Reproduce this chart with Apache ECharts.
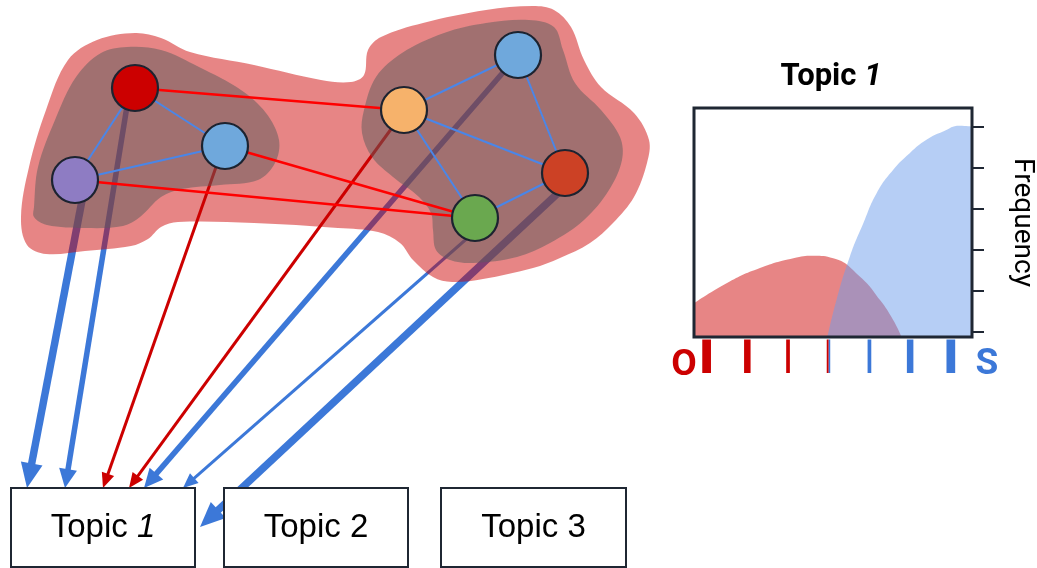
<!DOCTYPE html>
<html><head><meta charset="utf-8">
<script src="https://cdn.jsdelivr.net/npm/echarts@6/dist/echarts.min.js"></script>
<style>html,body{margin:0;padding:0;background:#fff}#c{width:1037px;height:568px}</style>
</head><body><div id="c"></div>
<script>
// ---------------- diagram data (diagram units) ----------------
const nodeX = [135, 225, 75, 404, 518, 565, 475];
const nodeY = [88, 146, 180, 110, 55, 173, 218];
const nodeColors = ['#cc0000', '#6fa8dc', '#8e7cc3', '#f6b26b', '#6fa8dc', '#cc4125', '#6aa84f'];

const linkSource = [0, 0, 2, 3, 4, 3, 3, 6, 0, 1, 2];
const linkTarget = [1, 2, 1, 4, 5, 5, 6, 5, 3, 6, 6];
const linkType = ['in', 'in', 'in', 'in', 'in', 'in', 'in', 'in', 'cross', 'cross', 'cross'];

const arrowFromX = [84, 128, 222, 405, 519, 488, 572];
const arrowFromY = [190, 100, 150, 110, 54, 220, 180];
const arrowToX = [27, 65, 103, 129, 144, 183, 200];
const arrowToY = [488, 488, 488, 488, 488, 488, 527];
const arrowWeight = [3, 2, 1, 1, 2, 1, 3];
const arrowKind = ['blue', 'blue', 'red', 'red', 'blue', 'blue', 'blue'];

const outerBlob = [[68,60],[97,40],[135,33],[161,38],[190,52],[254,65],[321,80],[351,82],[364,75],[368,50],[381,37],[423,23],[486,10],[533,6],[554,10],[571,27],[584,60],[601,87],[634,113],[649,140],[647,163],[634,197],[613,223],[590,243],[560,258],[533,268],[483,279],[452,282],[433,277],[413,260],[400,243],[378,232],[338,228],[254,223],[178,222],[161,227],[148,239],[131,246],[85,251],[46,254],[27,245],[21,217],[29,167],[46,110]];
const innerLeft = [[34,207],[38,167],[55,120],[76,77],[101,53],[127,47],[161,50],[199,67],[241,90],[266,113],[279,140],[275,163],[258,180],[220,185],[182,189],[161,197],[140,217],[123,226],[85,228],[47,225],[34,217]];
const innerRight = [[362,133],[364,110],[376,77],[402,53],[444,33],[486,23],[529,20],[554,27],[563,50],[575,83],[601,110],[620,137],[622,160],[609,190],[584,220],[550,243],[517,257],[473,263],[450,260],[436,250],[433,230],[431,213],[419,197],[393,177],[372,157]];

const topicNames = ['Topic ', 'Topic ', 'Topic '];
const topicNums = ['1', '2', '3'];
const topicItalic = [true, false, false];
const topicX0 = [11, 224, 441];
const topicX1 = [195, 408, 626];
const topicY0 = [488, 488, 488];
const topicY1 = [567, 567, 567];

// ---------------- mini chart data ----------------
const redX = [-0.31, 0.49, 1.31, 2.13, 2.62, 3.11, 3.77, 4.26, 4.58, 4.79];
const redY = [0.69, 1.18, 1.55, 1.79, 1.85, 1.79, 1.34, 0.77, 0.29, -0.13];
const blueX = [2.97, 3.19, 3.52, 3.85, 4.18, 4.58, 4.99, 5.41, 5.81, 6.22, 6.52];
const blueY = [-0.13, 0.77, 1.83, 2.64, 3.38, 3.94, 4.35, 4.68, 4.88, 5.02, 5.0];
const scalePos = [0, 1, 2, 3, 4, 5, 6];
const scaleWeight = [3, 2, 1, 0, 1, 2, 3];
const scaleSide = ['O', 'O', 'O', 'M', 'S', 'S', 'S'];
const freqTicks = [0, 1, 2, 3, 4, 5];
const miniX = [-0.31, 6.52];
const miniY = [-0.13, 5.45];

// ---------------- styling ----------------
const BLUE = '#3c78d8', RED = '#cc0000', DARK = '#1f2733';
const aW = [0, 3, 5.5, 7.5], hW = [0, 13, 18, 22], hL = [0, 15, 19, 25];
const tickW = [2, 3.7, 6.5, 8.7];

const chart = echarts.init(document.getElementById('c'));

function blobSeries(pts, fill, z) {
  return {
    type: 'custom', xAxisIndex: 0, yAxisIndex: 0, z: z, silent: true,
    data: [[0]],
    renderItem: function (params, api) {
      return { type: 'polygon', shape: { points: pts.map(p => api.coord(p)), smooth: 0.35 }, style: { fill: fill } };
    }
  };
}

const option = {
  animation: false,
  grid: [
    { left: 0, top: 0, right: 0, bottom: 0, outerBoundsMode: 'none', containLabel: false },
    { left: 694, top: 108, width: 278, height: 229, outerBoundsMode: 'none', containLabel: false }
  ],
  xAxis: [
    { type: 'value', gridIndex: 0, min: 0, max: 1037, show: false },
    { type: 'value', gridIndex: 1, min: miniX[0], max: miniX[1], show: false }
  ],
  yAxis: [
    { type: 'value', gridIndex: 0, min: 0, max: 568, inverse: true, show: false },
    {
      type: 'value', gridIndex: 1, position: 'right', min: miniY[0], max: miniY[1],
      axisLine: { show: false, onZero: false },
      axisTick: { show: true, customValues: freqTicks, length: 12, lineStyle: { color: DARK, width: 2 } },
      axisLabel: { show: false }, splitLine: { show: false },
      name: 'Frequency', nameLocation: 'middle', nameRotate: -90, nameGap: 36,
      nameTextStyle: { fontSize: 28, fontFamily: 'Roboto', color: '#000' }
    }
  ],
  graphic: [
    { type: 'text', x: 831, y: 77, style: { text: '{a|Topic }{b|1}', align: 'center', verticalAlign: 'middle',
      rich: { a: { fontSize: 31, fontWeight: 'bold', fontFamily: 'Roboto', fill: '#000' },
              b: { fontSize: 31, fontWeight: 'bold', fontStyle: 'italic', fontFamily: 'Roboto', fill: '#000' } } } },
    { type: 'text', x: 684, y: 366, style: { text: 'O', align: 'center', verticalAlign: 'middle', fontSize: 37, fontWeight: 'bold', fontFamily: 'Roboto', fill: RED } },
    { type: 'text', x: 987, y: 365, style: { text: 'S', align: 'center', verticalAlign: 'middle', fontSize: 37, fontWeight: 'bold', fontFamily: 'Roboto', fill: BLUE } }
  ],
  series: [
    // arrows to topics
    {
      type: 'custom', xAxisIndex: 0, yAxisIndex: 0, z: 1, silent: true,
      data: arrowFromX.map((_, i) => [i]),
      renderItem: function (params, api) {
        const i = api.value(0);
        const p0 = api.coord([arrowFromX[i], arrowFromY[i]]);
        const p1 = api.coord([arrowToX[i], arrowToY[i]]);
        const dx = p1[0] - p0[0], dy = p1[1] - p0[1], len = Math.hypot(dx, dy);
        const ux = dx / len, uy = dy / len, nx = -uy, ny = ux;
        const w = arrowWeight[i], hl = hL[w], hw = hW[w] / 2;
        const color = arrowKind[i] === 'red' ? RED : BLUE;
        const bx = p1[0] - ux * hl, by = p1[1] - uy * hl;
        return { type: 'group', children: [
          { type: 'line', shape: { x1: p0[0], y1: p0[1], x2: bx + ux * 3, y2: by + uy * 3 }, style: { stroke: color, lineWidth: aW[w] } },
          { type: 'polygon', shape: { points: [[p1[0], p1[1]], [bx + nx * hw, by + ny * hw], [bx - nx * hw, by - ny * hw]] }, style: { fill: color } }
        ] };
      }
    },
    blobSeries(outerBlob, 'rgba(204,0,0,0.48)', 2),
    blobSeries(innerLeft, 'rgba(91,91,91,0.5)', 2),
    blobSeries(innerRight, 'rgba(91,91,91,0.5)', 2),
    // links
    {
      type: 'custom', xAxisIndex: 0, yAxisIndex: 0, z: 3, silent: true,
      data: linkSource.map((_, i) => [i]),
      renderItem: function (params, api) {
        const i = api.value(0);
        const a = api.coord([nodeX[linkSource[i]], nodeY[linkSource[i]]]);
        const b = api.coord([nodeX[linkTarget[i]], nodeY[linkTarget[i]]]);
        const cross = linkType[i] === 'cross';
        return { type: 'line', shape: { x1: a[0], y1: a[1], x2: b[0], y2: b[1] },
          style: { stroke: cross ? '#ff0000' : '#4a86e8', lineWidth: cross ? 2.5 : 2 } };
      }
    },
    // nodes
    {
      type: 'scatter', xAxisIndex: 0, yAxisIndex: 0, z: 4, silent: true,
      symbolSize: 46,
      data: nodeX.map((x, i) => ({ value: [x, nodeY[i]], itemStyle: { color: nodeColors[i] } })),
      itemStyle: { borderColor: '#1c2330', borderWidth: 2.2, opacity: 1 }
    },
    // topic boxes
    {
      type: 'custom', xAxisIndex: 0, yAxisIndex: 0, z: 3, silent: true,
      data: topicNames.map((_, i) => [i]),
      renderItem: function (params, api) {
        const i = api.value(0);
        const a = api.coord([topicX0[i], topicY0[i]]);
        const b = api.coord([topicX1[i], topicY1[i]]);
        return { type: 'group', children: [
          { type: 'rect', shape: { x: a[0], y: a[1], width: b[0] - a[0], height: b[1] - a[1] }, style: { fill: '#fff', stroke: DARK, lineWidth: 2 } },
          { type: 'text', x: (a[0] + b[0]) / 2, y: (a[1] + b[1]) / 2, style: {
            text: '{a|' + topicNames[i] + '}{b|' + topicNums[i] + '}', align: 'center', verticalAlign: 'middle',
            rich: { a: { fontSize: 33, fontFamily: 'Liberation Sans', fill: '#000' },
                    b: { fontSize: 33, fontFamily: 'Liberation Sans', fontStyle: topicItalic[i] ? 'italic' : 'normal', fill: '#000' } } } }
        ] };
      }
    },
    // mini chart: red distribution
    {
      type: 'line', xAxisIndex: 1, yAxisIndex: 1, smooth: 0.5, showSymbol: false, symbol: 'none', silent: true, z: 2,
      data: redX.map((x, i) => [x, redY[i]]),
      lineStyle: { width: 0 },
      areaStyle: { color: 'rgba(204,0,0,0.48)', origin: 'start', opacity: 1 }
    },
    // mini chart: blue distribution
    {
      type: 'line', xAxisIndex: 1, yAxisIndex: 1, smooth: 0.5, showSymbol: false, symbol: 'none', silent: true, z: 3,
      data: blueX.map((x, i) => [x, blueY[i]]),
      lineStyle: { width: 0 },
      areaStyle: { color: 'rgba(109,158,235,0.5)', origin: 'start', opacity: 1 }
    },
    // mini chart frame
    {
      type: 'custom', xAxisIndex: 1, yAxisIndex: 1, z: 10, silent: true, clip: false,
      data: [[0]],
      renderItem: function (params, api) {
        const a = api.coord([miniX[0], miniY[0]]);
        const b = api.coord([miniX[1], miniY[1]]);
        return { type: 'rect', shape: { x: a[0], y: b[1], width: b[0] - a[0], height: a[1] - b[1] }, style: { fill: 'none', stroke: DARK, lineWidth: 3 } };
      }
    },
    // O–S scale ticks
    {
      type: 'custom', xAxisIndex: 1, yAxisIndex: 1, z: 10, silent: true, clip: false,
      data: scalePos.map((_, i) => [i]),
      renderItem: function (params, api) {
        const i = api.value(0);
        const p = api.coord([scalePos[i], miniY[0]]);
        const top = p[1] + 2.5, h = 33.5;
        if (scaleSide[i] === 'M') {
          return { type: 'group', children: [
            { type: 'rect', shape: { x: p[0] - 2, y: top, width: 2, height: h }, style: { fill: RED } },
            { type: 'rect', shape: { x: p[0], y: top, width: 1.5, height: h }, style: { fill: BLUE } }
          ] };
        }
        const w = tickW[scaleWeight[i]];
        return { type: 'rect', shape: { x: p[0] - w / 2, y: top, width: w, height: h }, style: { fill: scaleSide[i] === 'O' ? RED : BLUE } };
      }
    }
  ]
};
chart.setOption(option);
</script>
</body></html>
